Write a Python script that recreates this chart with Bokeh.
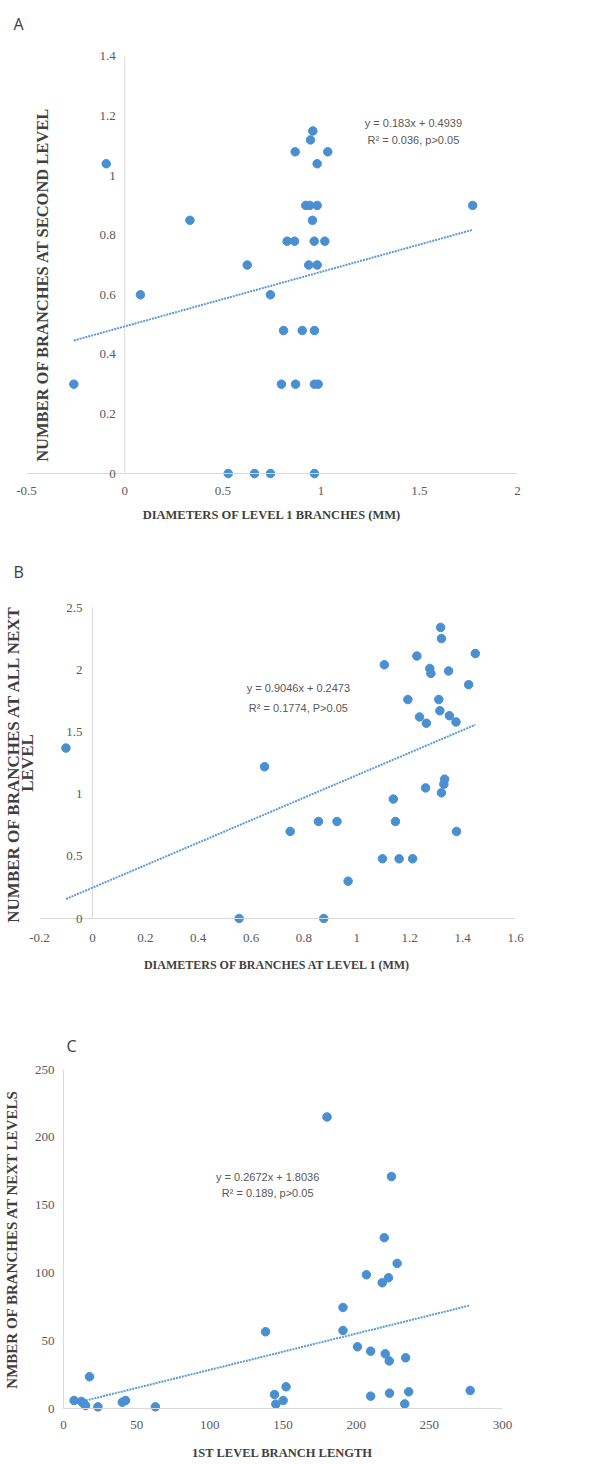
import math
from bokeh.plotting import figure
from bokeh.models import (Span, Label, LabelSet, ColumnDataSource, FixedTicker,
                          NumeralTickFormatter)
from bokeh.embed import file_html
from bokeh.resources import INLINE
from bokeh.core.properties import value

# ---------------- data ----------------
# Panel A
A_x = [-0.094, 0.332, 0.868, 0.958, 0.946, 1.034, 0.980, 0.922, 0.943, 0.980, 1.772,
       0.956, 0.827, 0.865, 0.965, 1.019, 0.624, 0.937, 0.980, 0.080, 0.742, 0.809,
       0.904, 0.966, -0.259, 0.798, 0.870, 0.966, 0.985, 0.527, 0.661, 0.742, 0.966]
A_y = [1.04, 0.85, 1.08, 1.15, 1.12, 1.08, 1.04, 0.90, 0.90, 0.90, 0.90,
       0.85, 0.78, 0.78, 0.78, 0.78, 0.70, 0.70, 0.70, 0.60, 0.60, 0.48,
       0.48, 0.48, 0.30, 0.30, 0.30, 0.30, 0.30, 0.0, 0.0, 0.0, 0.0]
A_slope, A_intercept = 0.183, 0.4939
A_eq = ["y = 0.183x + 0.4939", "R² = 0.036, p>0.05"]
A_xticks = [-0.5, 0, 0.5, 1, 1.5, 2]
A_yticks = [0, 0.2, 0.4, 0.6, 0.8, 1, 1.2, 1.4]
A_ylabels = ["0", "0.2", "0.4", "0.6", "0.8", "1", "1.2", "1.4"]
A_xtitle = "DIAMETERS OF LEVEL 1 BRANCHES (MM)"
A_ytitle = "NUMBER OF BRANCHES AT SECOND LEVEL"

# Panel B
B_x = [-0.100, 1.104, 1.227, 1.317, 1.320, 1.276, 1.280, 1.347, 1.448, 1.423, 1.193,
       1.310, 1.314, 1.237, 1.263, 1.350, 1.375, 0.651, 1.332, 1.329, 1.260, 1.320,
       1.138, 0.855, 0.925, 1.146, 0.748, 1.377, 1.097, 1.160, 1.211, 0.967, 0.555, 0.875]
B_y = [1.37, 2.04, 2.11, 2.34, 2.25, 2.01, 1.97, 1.99, 2.13, 1.88, 1.76,
       1.76, 1.67, 1.62, 1.57, 1.63, 1.58, 1.22, 1.12, 1.08, 1.05, 1.01,
       0.96, 0.78, 0.78, 0.78, 0.70, 0.70, 0.48, 0.48, 0.48, 0.30, 0.0, 0.0]
B_slope, B_intercept = 0.9046, 0.2473
B_eq = ["y = 0.9046x + 0.2473", "R² = 0.1774, P>0.05"]
B_xticks = [-0.2, 0, 0.2, 0.4, 0.6, 0.8, 1, 1.2, 1.4, 1.6]
B_yticks = [0, 0.5, 1, 1.5, 2, 2.5]
B_ylabels = ["0", "0.5", "1", "1.5", "2", "2.5"]
B_xtitle = "DIAMETERS OF BRANCHES AT LEVEL 1 (MM)"
B_ytitle = "NUMBER OF BRANCHES AT ALL NEXT\nLEVEL"

# Panel C
C_x = [180.1, 224.1, 219.2, 228.0, 207.0, 222.1, 217.8, 191.0, 191.0, 138.1, 200.9,
       209.9, 219.9, 233.8, 222.6, 17.8, 152.1, 144.2, 277.9, 235.9, 222.8, 209.9,
       150.1, 145.1, 233.2, 7.2, 12.2, 13.7, 15.1, 23.5, 40.2, 42.4, 62.8]
C_y = [215, 171, 126, 107, 98.6, 96.4, 92.7, 74.5, 57.5, 56.6, 45.5,
       42.3, 40.3, 37.4, 35.1, 23.4, 16.0, 10.3, 13.3, 12.3, 11.3, 9.1,
       5.9, 3.2, 3.4, 5.9, 5.2, 3.7, 2.2, 1.2, 4.7, 5.9, 1.2]
C_slope, C_intercept = 0.2672, 1.8036
C_eq = ["y = 0.2672x + 1.8036", "R² = 0.189, p>0.05"]
C_xticks = [0, 50, 100, 150, 200, 250, 300]
C_yticks = [0, 50, 100, 150, 200, 250]
C_xtitle = "1ST LEVEL BRANCH LENGTH"
C_ytitle = "NMBER OF BRANCHES AT NEXT LEVELS"

# ---------------- styles ----------------
SERIF = "Liberation Serif"
EQ_FONT = "Liberation Sans"
PT_COLOR = "#4a8fd0"
LINE_COLOR = "#5b9bd5"
AXIS_COLOR = "#d9d9d9"
TICK_COLOR = "#595959"
TITLE_COLOR = "#404040"
TICK_SIZE = "13px"


def base_fig(h, xr, yr, top, bottom, left, right, yloc):
    p = figure(width=613, height=h, x_range=xr, y_range=yr,
               output_backend="svg", toolbar_location=None,
               min_border_top=top, min_border_bottom=bottom,
               min_border_left=left, min_border_right=right,
               y_axis_location=yloc)
    p.grid.visible = False
    p.outline_line_color = None
    p.background_fill_color = "white"
    p.border_fill_color = "white"
    return p


def style_xaxis(p, ticks, title, std, title_std, title_size, fmt=None):
    ax = p.xaxis[0]
    ax.ticker = FixedTicker(ticks=ticks)
    if fmt:
        ax.formatter = NumeralTickFormatter(format=fmt)
    ax.axis_line_color = None
    ax.major_tick_line_color = None
    ax.minor_tick_line_color = None
    ax.major_tick_out = 0
    ax.major_label_standoff = std
    ax.major_label_text_font = SERIF
    ax.major_label_text_font_size = TICK_SIZE
    ax.major_label_text_color = TICK_COLOR
    ax.axis_label = title
    ax.axis_label_standoff = title_std
    ax.axis_label_text_font = SERIF
    ax.axis_label_text_font_style = "bold"
    ax.axis_label_text_font_size = title_size
    ax.axis_label_text_color = TITLE_COLOR
    # horizontal axis line at y = 0
    p.add_layout(Span(location=0, dimension="width", line_color=AXIS_COLOR, line_width=1))


def add_vaxis_line(p, ticks):
    p.segment(x0=[0], y0=[ticks[0]], x1=[0], y1=[ticks[-1]],
              line_color=AXIS_COLOR, line_width=1)


def add_points(p, xs, ys, slope, intercept):
    xmin, xmax = min(xs), max(xs)
    p.line([xmin, xmax], [slope * xmin + intercept, slope * xmax + intercept],
           line_color=LINE_COLOR, line_width=2, line_dash="2 1")
    p.scatter(xs, ys, size=8.5, fill_color=PT_COLOR, line_color=PT_COLOR)


def add_eq(p, x, y1, y2, lines):
    for yy, t in zip((y1, y2), lines):
        p.add_layout(Label(x=x, y=yy, text=t, text_align="center", text_baseline="middle",
                           text_font=EQ_FONT, text_font_size="11px",
                           text_color=TICK_COLOR))


def add_inner_yticks(p, ticks, labels, off):
    src = ColumnDataSource(dict(x=[0] * len(ticks), y=ticks, text=labels))
    p.add_layout(LabelSet(x="x", y="y", text="text", source=src, x_offset=off,
                          text_align="right", text_baseline="middle",
                          text_font=value(SERIF), text_font_size=value(TICK_SIZE),
                          text_color=TICK_COLOR))


def panel_letter(p, t, offset, standoff):
    p.title.text = t
    p.title.align = "left"
    p.title.offset = offset
    p.title.standoff = standoff
    p.title.text_font = "Open Sans"
    p.title.text_font_style = "normal"
    p.title.text_font_size = "16px"
    p.title.text_color = TITLE_COLOR


def yt_axis(ax, title, size, label_std, title_std, ticks=None, lh=1.0):
    ax.ticker = FixedTicker(ticks=ticks if ticks else [])
    ax.axis_line_color = None
    ax.major_tick_line_color = None
    ax.minor_tick_line_color = None
    ax.major_tick_out = 0
    ax.major_label_standoff = label_std
    ax.major_label_text_font = SERIF
    ax.major_label_text_font_size = TICK_SIZE
    ax.major_label_text_color = TICK_COLOR
    ax.axis_label = title
    ax.axis_label_standoff = title_std
    ax.axis_label_text_line_height = lh
    ax.axis_label_text_font = SERIF
    ax.axis_label_text_font_style = "bold"
    ax.axis_label_text_font_size = size
    ax.axis_label_text_color = TITLE_COLOR


# ---------------- Panel A ----------------
# frame: data 0 -> px 473, 1.4 -> px 55 ; 12 px padding above/below
a_pad = 12 / 298.6
pA = base_fig(545, (-0.5, 2), (-a_pad, 1.4 + a_pad), 43, 60, 26, 96, None)
style_xaxis(pA, A_xticks, A_xtitle, 1, 10, "12.5px", "0.[0]")
add_vaxis_line(pA, A_yticks)
add_inner_yticks(pA, A_yticks, A_ylabels, -9)
add_points(pA, A_x, A_y, A_slope, A_intercept)
add_eq(pA, 1.47, 1.176, 1.119, A_eq)
pA.add_layout(Label(x=-0.419, y=0.635, text=A_ytitle, angle=math.pi / 2,
                    text_align="center", text_baseline="middle",
                    text_font=SERIF, text_font_style="bold",
                    text_font_size="16.5px", text_color=TITLE_COLOR))
panel_letter(pA, "A", -13, 20)

# ---------------- Panel B ----------------
b_pad = 12 / 124.4
pB = base_fig(445, (-0.2, 1.6), (-b_pad, 2.5 + b_pad), 50, 60, 39, 98, "left")
style_xaxis(pB, B_xticks, B_xtitle, 3, 13, "12px", "0.[0]")
yt_axis(pB.yaxis[0], B_ytitle, "17px", 0, 3, lh=0.7)
add_vaxis_line(pB, B_yticks)
add_inner_yticks(pB, B_yticks, B_ylabels, -10)
add_points(pB, B_x, B_y, B_slope, B_intercept)
add_eq(pB, 0.779, 1.849, 1.696, B_eq)
panel_letter(pB, "B", -26, 25)

# ---------------- Panel C ----------------
c_pad = 12 / 1.356
c_xpad = 1 / 1.4767
pC = base_fig(474, (-c_xpad, 300), (-c_pad, 250 + c_pad), 67, 44, 58, 111, "left")
style_xaxis(pC, C_xticks, C_xtitle, 0, 14, "12.5px")
yt_axis(pC.yaxis[0], C_ytitle, "15px", 8, 12, C_yticks)
add_vaxis_line(pC, C_yticks)
add_points(pC, C_x, C_y, C_slope, C_intercept)
add_eq(pC, 139.5, 171, 158.6, C_eq)
panel_letter(pC, "C", 4, 2)

open("out.html", "w").write(file_html([pA, pB, pC], INLINE))
